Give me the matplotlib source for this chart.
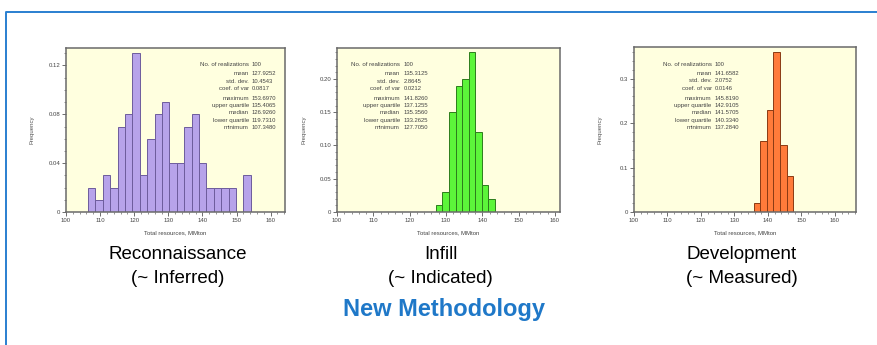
import numpy as np
import matplotlib
matplotlib.use("Agg")
import matplotlib.pyplot as plt
from matplotlib.ticker import MultipleLocator, FixedLocator

plt.rcParams['font.family'] = ['Liberation Sans', 'DejaVu Sans']

# histogram data (frequency per bin)
recon_start, recon_width = 106.45, 2.17
recon_freq = [0.02, 0.01, 0.03, 0.02, 0.07, 0.08, 0.13, 0.03, 0.06, 0.08, 0.09,
              0.04, 0.04, 0.07, 0.08, 0.04, 0.02, 0.02, 0.02, 0.02, 0.0, 0.03]

infill_start, infill_width = 127.2, 1.81
infill_freq = [0.01, 0.03, 0.15, 0.19, 0.20, 0.24, 0.12, 0.04, 0.02]

devel_start, devel_width = 135.8, 1.95
devel_freq = [0.02, 0.16, 0.23, 0.36, 0.15, 0.08]

stat_names = ["No. of realizations", "mean", "std. dev.", "coef. of var",
              "maximum", "upper quartile", "median", "lower quartile", "minimum"]
recon_stats = ["100", "127.9252", "10.4543", "0.0817",
               "153.6970", "135.4065", "126.9260", "119.7310", "107.3480"]
infill_stats = ["100", "135.3125", "2.8645", "0.0212",
                "141.8260", "137.1255", "135.3560", "133.2625", "127.7050"]
devel_stats = ["100", "141.6582", "2.0752", "0.0146",
               "145.8190", "142.9105", "141.5705", "140.3340", "137.2840"]

titles = [("Reconnaissance", "(~ Inferred)"), ("Infill", "(~ Indicated)"),
          ("Development", "(~ Measured)")]

W, H = 877, 345
fig = plt.figure(figsize=(W / 100, H / 100), dpi=100)
fig.patch.set_facecolor("white")

# blue frame line (top and left)
blue = "#2a7fd0"
fig.add_artist(plt.Line2D([6 / W, 6 / W, 1.0], [0.0, 1 - 12 / H, 1 - 12 / H],
                          transform=fig.transFigure, color=blue, lw=1.4))

# panel geometry in pixels: left, right, top, bottom
panels = [
    dict(box=(66, 285, 48, 212), xlim=(100, 164.2), ylim=0.1343, yticks=[0, 0.04, 0.08, 0.12],
         ylabels=["0", "0.04", "0.08", "0.12"], yminor=0.01,
         start=recon_start, width=recon_width, freq=recon_freq, stats=recon_stats,
         face="#b7a3ea", edge="#6d5c9c", txt=(249, 252), ylab_x=35, title_x=177.5),
    dict(box=(337, 560, 48, 212), xlim=(100, 161.4), ylim=0.2466, yticks=[0, 0.05, 0.10, 0.15, 0.20],
         ylabels=["0", "0.05", "0.10", "0.15", "0.20"], yminor=0.01,
         start=infill_start, width=infill_width, freq=infill_freq, stats=infill_stats,
         face="#5cf53a", edge="#2d7d1c", txt=(400, 404), ylab_x=306.5, title_x=440.5),
    dict(box=(634, 856, 47, 212), xlim=(100, 166.3), ylim=0.371, yticks=[0, 0.1, 0.2, 0.3],
         ylabels=["0", "0.1", "0.2", "0.3"], yminor=0.02,
         start=devel_start, width=devel_width, freq=devel_freq, stats=devel_stats,
         face="#ff7b3a", edge="#8a3a14", txt=(711.7, 715), ylab_x=602.5, title_x=742),
]

rows_px = [64, 73.3, 81, 88.3, 98, 105.5, 112.7, 120.2, 127.3]

for p, (line1, line2) in zip(panels, titles):
    l, r, t, b = p["box"]
    ax = fig.add_axes([l / W, 1 - b / H, (r - l) / W, (b - t) / H])
    ax.set_facecolor("#ffffdf")
    edges = p["start"] + p["width"] * np.arange(len(p["freq"]))
    ax.bar(edges, p["freq"], width=p["width"], align="edge",
           color=p["face"], edgecolor=p["edge"], linewidth=0.7)
    ax.set_xlim(*p["xlim"])
    ax.set_ylim(0, p["ylim"])
    ax.xaxis.set_major_locator(FixedLocator([100, 110, 120, 130, 140, 150, 160]))
    ax.xaxis.set_minor_locator(MultipleLocator(2))
    ax.yaxis.set_major_locator(FixedLocator(p["yticks"]))
    ax.set_yticklabels(p["ylabels"])
    ax.yaxis.set_minor_locator(MultipleLocator(p["yminor"]))
    ax.tick_params(which="major", length=3, width=0.6, labelsize=4.3,
                   colors="#555555", labelcolor="#444444", pad=1)
    ax.tick_params(which="minor", length=1.5, width=0.5, colors="#666666")
    for s in ax.spines.values():
        s.set_color("#6a6a6a")
        s.set_linewidth(1.1)
    ax.set_ylabel("Frequency", fontsize=4.3, color="#555555")
    ax.yaxis.set_label_coords((p["ylab_x"] - l) / (r - l), 0.5)
    ax.set_xlabel("Total resources, MMton", fontsize=4.3, color="#444444")
    ax.xaxis.set_label_coords(0.5, (b - 230.5) / (b - t))

    tl, tv = p["txt"]
    for name, val, y in zip(stat_names, p["stats"], rows_px):
        yf = (b - y) / (b - t)
        ax.text((tl - l) / (r - l), yf, name, transform=ax.transAxes,
                ha="right", va="center", fontsize=4.4, color="#444444")
        ax.text((tv - l) / (r - l), yf, val, transform=ax.transAxes,
                ha="left", va="center", fontsize=4.2, color="#444444")

    fig.text(p["title_x"] / W, 1 - 259.3 / H, line1, ha="center", va="baseline",
             fontsize=13.5, color="black")
    fig.text(p["title_x"] / W, 1 - 283.3 / H, line2, ha="center", va="baseline",
             fontsize=13.5, color="black")

fig.text(444.5 / W, 1 - 316 / H, "New Methodology", ha="center", va="baseline",
         fontsize=17, fontweight="bold", color="#1f78c8")

fig.savefig("out.png", dpi=100)
